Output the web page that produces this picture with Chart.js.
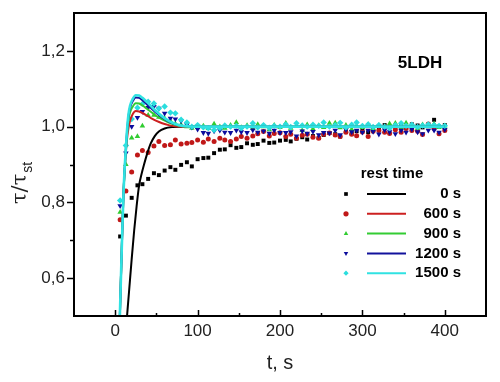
<!DOCTYPE html>
<html>
<head>
<meta charset="utf-8">
<script src="https://cdn.jsdelivr.net/npm/chart.js@4.4.0/dist/chart.umd.min.js"></script>
<style>
  html, body { margin: 0; padding: 0; background: #fff; }
  #wrap { width: 500px; height: 382px; }
</style>
</head>
<body>
<div id="wrap"><canvas id="chart" width="500" height="382"></canvas></div>
<script>
(function () {
  "use strict";

  // measured points, t in seconds
  var sampleTimes = [6, 13, 20, 27, 33, 40, 47, 53, 60, 67, 73, 80, 87, 93, 100, 107, 113, 120, 127, 133,
    140, 147, 153, 160, 167, 173, 180, 187, 193, 200, 207, 213, 220, 227, 233, 240, 247, 253, 260, 267,
    273, 280, 287, 293, 300, 307, 313, 320, 327, 333, 340, 347, 353, 360, 367, 373, 380, 387, 393, 400];

  var rest0 = [0.71, 0.765, 0.812, 0.845, 0.848, 0.862, 0.877, 0.872, 0.884, 0.893, 0.886, 0.899, 0.906, 0.895, 0.914, 0.917, 0.918, 0.93, 0.939, 0.94,
    0.951, 0.944, 0.946, 0.956, 0.952, 0.954, 0.963, 0.957, 0.958, 0.963, 0.965, 0.961, 0.968, 0.972, 0.966, 0.975, 0.97, 0.978, 0.983, 0.98,
    0.974, 0.986, 0.982, 0.988, 0.99, 0.985, 0.993, 0.996, 1.004, 0.998, 1.0, 1.004, 0.996, 1.006, 1.003, 0.998, 1.005, 1.018, 1.0, 1.004];

  var rest600 = [0.754, 0.83, 0.88, 0.925, 0.937, 0.932, 0.949, 0.961, 0.95, 0.952, 0.965, 0.954, 0.956, 0.958, 0.965, 0.959, 0.967, 0.961, 0.969, 0.965,
    0.961, 0.967, 0.974, 0.969, 0.975, 0.981, 0.987, 0.975, 0.982, 0.984, 0.974, 0.98, 0.969, 0.977, 0.98, 0.972, 0.969, 0.98, 0.983, 0.978,
    0.974, 0.985, 0.98, 0.976, 0.986, 0.974, 0.988, 0.99, 0.985, 0.982, 0.992, 0.985, 0.995, 0.99, 0.988, 0.979, 1.007, 0.995, 0.981, 0.99];

  var rest900 = [0.774, 0.9, 0.97, 0.974, 1.002, 1.03, 1.03, 1.025, 1.022, 1.015, 1.008, 1.005, 1.0, 0.996, 0.998, 1.002, 0.995, 1.007, 1.0, 0.996,
    1.004, 1.011, 0.998, 1.003, 0.995, 1.006, 1.0, 0.992, 1.004, 0.998, 1.009, 0.996, 1.002, 0.99, 1.005, 0.994, 1.003, 0.998, 1.009, 1.01,
    0.997, 1.004, 0.993, 1.002, 0.998, 1.006, 0.995, 1.003, 1.0, 1.008, 1.009, 0.997, 1.01, 1.002, 0.996, 1.005, 1.0, 1.007, 0.998, 1.002];

  var rest1200 = [0.791, 0.93, 1.0, 1.024, 1.04, 1.05, 1.053, 1.048, 1.035, 1.022, 1.02, 1.015, 1.005, 0.998, 0.993, 0.984, 0.982, 0.988, 0.99, 0.985,
    0.984, 0.99, 0.986, 0.984, 0.991, 0.985, 0.988, 0.982, 0.99, 0.984, 0.984, 0.986, 0.975, 0.988, 0.982, 0.987, 0.978, 0.984, 0.983, 0.99,
    0.978, 0.992, 0.986, 0.99, 0.985, 0.99, 0.987, 0.98, 0.991, 0.986, 0.981, 0.99, 0.985, 0.993, 0.986, 0.981, 0.99, 0.99, 0.985, 0.992];

  var rest1500 = [0.805, 0.95, 1.02, 1.05, 1.06, 1.066, 1.061, 1.048, 1.053, 1.037, 1.035, 1.018, 1.011, 1.0, 1.004, 0.998, 0.996, 0.991, 0.996, 1.003,
    1.0, 1.002, 0.996, 1.0, 1.009, 0.998, 1.004, 0.997, 1.002, 1.0, 1.006, 0.999, 1.009, 1.003, 1.0, 1.005, 1.002, 1.011, 1.0, 1.004,
    1.01, 0.998, 1.005, 1.011, 1.002, 1.006, 0.999, 1.004, 1.0, 0.996, 1.004, 1.009, 1.002, 1.005, 0.999, 1.003, 1.006, 1.004, 1.002, 1.002];

  // fitted curves
  var fit0Times = [14, 17, 20, 23, 26, 29, 32, 35, 39, 43, 48, 53, 60, 70, 80, 100, 200, 300, 400];
  var fit0 = [0.49, 0.57, 0.65, 0.725, 0.79, 0.845, 0.875, 0.9, 0.93, 0.955, 0.975, 0.987, 0.995, 0.999, 1.0, 1.0, 1.0, 1.0, 1.0];

  var fitTimes = [5, 8, 10, 12, 14, 16, 18, 21, 25, 29, 33, 38, 44, 50, 57, 65, 73, 82, 95, 150, 200, 250, 300, 350, 400];
  var fit600 = [0.45, 0.68, 0.82, 0.9, 0.96, 0.995, 1.015, 1.032, 1.041, 1.04, 1.036, 1.03, 1.022, 1.015, 1.009, 1.004, 1.001, 1.0, 1.0, 1.0, 1.0, 1.0, 1.0, 1.0, 1.0];
  var fit900 = [0.45, 0.68, 0.82, 0.905, 0.97, 1.015, 1.037, 1.052, 1.062, 1.061, 1.056, 1.048, 1.038, 1.028, 1.019, 1.011, 1.005, 1.001, 1.0, 1.0, 1.0, 1.0, 1.0, 1.0, 1.0];
  var fit1200 = [0.45, 0.68, 0.82, 0.91, 0.975, 1.025, 1.05, 1.066, 1.077, 1.076, 1.07, 1.06, 1.048, 1.036, 1.024, 1.013, 1.006, 1.002, 1.0, 1.0, 1.0, 1.0, 1.0, 1.0, 1.0];
  var fit1500 = [0.45, 0.68, 0.82, 0.91, 0.98, 1.03, 1.055, 1.072, 1.083, 1.082, 1.076, 1.066, 1.053, 1.04, 1.027, 1.015, 1.007, 1.002, 1.0, 1.0, 1.0, 1.0, 1.0, 1.0, 1.0];

  var xTickLabels = [0, 100, 200, 300, 400];
  var yTickLabels = [0.6, 0.8, 1.0, 1.2];
  var legendLabels = ["0 s", "600 s", "900 s", "1200 s", "1500 s"];
  var legendTitle = "rest time";
  var sampleName = "5LDH";

  var markerColors = ["#000000", "#c01818", "#30cc30", "#0c0c9c", "#2adede"];
  var lineColors = ["#000000", "#cc2020", "#33cc33", "#12129c", "#30e2e2"];
  var markerStyles = ["rect", "circle", "triangle", "triangle", "rectRot"];
  var markerRotation = [0, 0, 0, 180, 0];
  var markerRadius = [2.8, 2.5, 3.2, 3.2, 3.2];

  var FONT = "'Liberation Sans', Arial, sans-serif";

  function pairs(xs, ys) {
    return xs.map(function (x, i) { return { x: x, y: ys[i] }; });
  }

  var samples = [rest0, rest600, rest900, rest1200, rest1500];
  var fits = [
    pairs(fit0Times, fit0),
    pairs(fitTimes, fit600),
    pairs(fitTimes, fit900),
    pairs(fitTimes, fit1200),
    pairs(fitTimes, fit1500)
  ];

  var datasets = [];
  fits.forEach(function (data, i) {
    datasets.push({
      data: data,
      showLine: true,
      borderColor: lineColors[i],
      borderWidth: i === 4 ? 2.6 : 2,
      pointRadius: 0,
      cubicInterpolationMode: "monotone",
      fill: false,
      order: 4 - i
    });
  });
  samples.forEach(function (vals, i) {
    datasets.push({
      data: pairs(sampleTimes, vals),
      showLine: false,
      pointStyle: markerStyles[i],
      rotation: markerRotation[i],
      pointRadius: markerRadius[i],
      backgroundColor: markerColors[i],
      borderColor: markerColors[i],
      borderWidth: 0,
      order: 9 - i
    });
  });

  function isNear(list, v) {
    return list.some(function (t) { return Math.abs(t - v) < 1e-6; });
  }

  var decor = {
    id: "decor",
    afterDraw: function (chart) {
      var ctx = chart.ctx;
      var a = chart.chartArea;
      var xs = chart.scales.x;
      var ys = chart.scales.y;
      ctx.save();

      // frame
      ctx.strokeStyle = "#000";
      ctx.lineWidth = 2;
      ctx.strokeRect(a.left, a.top, a.right - a.left, a.bottom - a.top);

      // ticks: x inside, y outside
      ctx.lineWidth = 1.5;
      ctx.beginPath();
      xs.ticks.forEach(function (t) {
        if (t.value <= xs.min || t.value >= xs.max) return;
        var px = Math.round(xs.getPixelForValue(t.value)) + 0.5;
        var len = isNear(xTickLabels, t.value) ? 6 : 3;
        ctx.moveTo(px, a.bottom);
        ctx.lineTo(px, a.bottom - len);
      });
      ys.ticks.forEach(function (t) {
        if (t.value <= ys.min || t.value >= ys.max) return;
        var py = Math.round(ys.getPixelForValue(t.value)) + 0.5;
        var len = isNear(yTickLabels, t.value) ? 7 : 4;
        ctx.moveTo(a.left, py);
        ctx.lineTo(a.left - len, py);
      });
      ctx.stroke();

      // axis titles
      ctx.fillStyle = "#222";
      ctx.font = "20px " + FONT;
      ctx.textAlign = "center";
      ctx.textBaseline = "middle";
      ctx.fillText("t, s", (a.left + a.right) / 2, 363);

      ctx.save();
      ctx.translate(26, 204);
      ctx.rotate(-Math.PI / 2);
      ctx.textAlign = "left";
      ctx.textBaseline = "alphabetic";
      ctx.font = "21px 'DejaVu Serif', serif";
      ctx.fillText("τ/τ", 0, 0);
      var w = ctx.measureText("τ/τ").width;
      ctx.font = "14px " + FONT;
      ctx.fillText("st", w + 1, 6);
      ctx.restore();

      // sample name
      ctx.fillStyle = "#000";
      ctx.font = "bold 17px " + FONT;
      ctx.textAlign = "center";
      ctx.fillText(sampleName, 420, 63);

      // legend
      ctx.font = "bold 15px " + FONT;
      ctx.fillText(legendTitle, 392, 174);
      legendLabels.forEach(function (label, i) {
        var y = 194 + i * 19.8;
        ctx.fillStyle = markerColors[i];
        ctx.strokeStyle = markerColors[i];
        Chart.helpers.drawPoint(ctx, {
          pointStyle: markerStyles[i],
          rotation: markerRotation[i],
          radius: 2.6,
          borderWidth: 0
        }, 346, y);
        ctx.strokeStyle = lineColors[i];
        ctx.lineWidth = 2;
        ctx.beginPath();
        ctx.moveTo(367, y);
        ctx.lineTo(406, y);
        ctx.stroke();
        ctx.fillStyle = "#000";
        ctx.textAlign = "right";
        ctx.fillText(label, 461, y);
        ctx.textAlign = "center";
      });

      ctx.restore();
    }
  };

  new Chart(document.getElementById("chart"), {
    type: "scatter",
    data: { datasets: datasets },
    options: {
      responsive: false,
      animation: false,
      events: [],
      layout: { padding: { top: 13, right: 14, left: 0, bottom: 0 } },
      plugins: { legend: { display: false }, tooltip: { enabled: false } },
      scales: {
        x: {
          type: "linear",
          min: -50,
          max: 450,
          grid: { display: false, drawTicks: false, tickLength: 0 },
          border: { display: false },
          ticks: {
            stepSize: 50,
            autoSkip: false,
            maxRotation: 0,
            padding: 5,
            color: "#222",
            font: { family: FONT, size: 17 },
            callback: function (v) { return isNear(xTickLabels, v) ? String(v) : ""; }
          },
          afterFit: function (scale) {
            scale.height = 66;
            scale.paddingLeft = 0;
            scale.paddingRight = 0;
          }
        },
        y: {
          type: "linear",
          min: 0.5,
          max: 1.3,
          grid: { display: false, drawTicks: false, tickLength: 0 },
          border: { display: false },
          ticks: {
            stepSize: 0.1,
            autoSkip: false,
            padding: 9,
            color: "#222",
            font: { family: FONT, size: 17 },
            callback: function (v) { return isNear(yTickLabels, v) ? v.toFixed(1).replace(".", ",") : ""; }
          },
          afterFit: function (scale) {
            scale.width = 74;
            scale.paddingTop = 0;
            scale.paddingBottom = 0;
          }
        }
      }
    },
    plugins: [decor]
  });
})();
</script>
</body>
</html>
